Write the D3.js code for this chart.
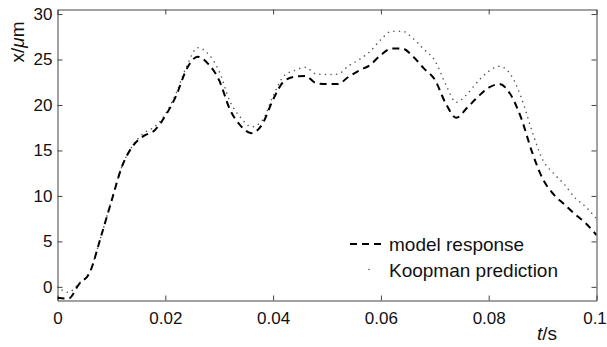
<!DOCTYPE html>
<html>
<head>
<meta charset="utf-8">
<script src="https://cdn.jsdelivr.net/npm/d3@7"></script>
<style>
  html, body { margin: 0; padding: 0; background: #fff; }
  svg { display: block; font-family: "Liberation Sans", Arial, Helvetica, sans-serif; }
</style>
</head>
<body>
<svg id="chart" width="607" height="347"></svg>
<script>
// ---- data (time in ms, displacement in µm) ----
const timeMs = [0,2,4,6,8,10,12,14,16,18,20,22,24,26,28,30,32,34,36,38,40,42,44,46,48,50,
  52,54,56,58,60,62,64,66,68,70,72,74,76,78,80,82,84,86,88,90,92,94,96,98,100];
const modelResponse = [-1.2,-1.3,0.3,1.6,5.4,9.4,13.3,15.5,16.6,17.2,18.8,21.0,24.0,25.3,24.5,22.7,
  19.5,17.7,16.9,17.9,20.6,22.6,23.1,23.2,22.4,22.3,22.3,23.1,23.8,24.4,25.5,26.2,26.2,25.3,24.0,
  22.8,20.2,18.6,19.7,20.9,21.9,22.3,21.2,18.6,14.9,11.9,10.2,9.1,8.0,7.0,5.7];
const koopmanPrediction = [0.0,-0.6,0.4,1.7,5.4,9.5,13.3,15.6,16.9,17.6,19.0,21.3,24.3,26.3,25.6,
  23.7,20.4,18.6,17.6,18.3,21.0,23.2,23.8,24.15,23.4,23.35,23.4,24.3,25.0,25.9,27.2,28.1,28.1,
  27.3,26.1,24.9,22.3,20.3,21.2,22.6,23.7,24.25,23.4,20.9,17.2,14.0,12.5,11.3,9.8,8.8,7.5];
const xTicks = [0, 0.02, 0.04, 0.06, 0.08, 0.1];
const xTickLabels = ["0", "0.02", "0.04", "0.06", "0.08", "0.1"];
const yTicks = [0, 5, 10, 15, 20, 25, 30];
const seriesNames = ["model response", "Koopman prediction"];

// ---- layout ----
const L = 57.5, R = 596.5, T = 9.5, B = 300.5;
const svg = d3.select("#chart");
const x = d3.scaleLinear().domain([0, 0.1]).range([L, R]);
const y = d3.scaleLinear().domain([-1.5, 30.5]).range([B, T]);

const axisColor = "#444";
const textColor = "#111";

// axes with inward ticks
const gB = svg.append("g").attr("transform", `translate(0,${B})`)
  .call(d3.axisBottom(x).tickValues(xTicks).tickSizeInner(-5).tickSizeOuter(0)
    .tickPadding(11).tickFormat((d, i) => xTickLabels[i]));
const gT = svg.append("g").attr("transform", `translate(0,${T})`)
  .call(d3.axisTop(x).tickValues(xTicks).tickSizeInner(-5).tickSizeOuter(0).tickFormat(""));
const gL = svg.append("g").attr("transform", `translate(${L},0)`)
  .call(d3.axisLeft(y).tickValues(yTicks).tickSizeInner(-5).tickSizeOuter(0).tickPadding(5));
const gR = svg.append("g").attr("transform", `translate(${R},0)`)
  .call(d3.axisRight(y).tickValues(yTicks).tickSizeInner(-5).tickSizeOuter(0).tickFormat(""));

[gB, gT, gL, gR].forEach(g => {
  g.select(".domain").attr("stroke", axisColor);
  g.selectAll(".tick line").attr("stroke", axisColor);
  g.selectAll(".tick text").attr("fill", textColor).attr("font-size", 17)
    .attr("font-family", "Liberation Sans, Arial, sans-serif");
});
// keep the last x label inside the picture
gB.selectAll(".tick text").filter(d => d === 0.1).attr("dx", -2);

// clip
svg.append("clipPath").attr("id", "clip").append("rect")
  .attr("x", L).attr("y", T).attr("width", R - L).attr("height", B - T);

const line = d3.line().curve(d3.curveMonotoneX)
  .x((d, i) => x(timeMs[i] / 1000)).y(d => y(d));

const plot = svg.append("g").attr("clip-path", "url(#clip)");
plot.append("path").datum(koopmanPrediction).attr("d", line)
  .attr("fill", "none").attr("stroke", "#555").attr("stroke-width", 1.5)
  .attr("stroke-linecap", "round").attr("stroke-dasharray", "0.1,5.5");
plot.append("path").datum(modelResponse).attr("d", line)
  .attr("fill", "none").attr("stroke", "#000").attr("stroke-width", 2)
  .attr("stroke-dasharray", "7,5");

// legend
const lg = svg.append("g");
lg.append("line").attr("x1", 350).attr("x2", 384).attr("y1", 244).attr("y2", 244)
  .attr("stroke", "#000").attr("stroke-width", 2).attr("stroke-dasharray", "7,5");
lg.append("circle").attr("cx", 369).attr("cy", 269.5).attr("r", 0.8).attr("fill", "#555");
lg.selectAll("text.leg").data(seriesNames).join("text").attr("class", "leg")
  .attr("x", 389).attr("y", (d, i) => 250.5 + i * 26)
  .attr("font-size", 19).attr("fill", textColor).text(d => d);

// axis labels
const xl = svg.append("text").attr("x", 547).attr("y", 340).attr("text-anchor", "middle")
  .attr("font-size", 19).attr("fill", textColor);
xl.append("tspan").attr("font-style", "italic").text("t");
xl.append("tspan").text("/s");

const yl = svg.append("text").attr("transform", "translate(24,42) rotate(-90)")
  .attr("text-anchor", "middle").attr("font-size", 19).attr("fill", textColor);
yl.append("tspan").text("x/");
yl.append("tspan").attr("font-style", "italic").text("μ");
yl.append("tspan").text("m");
</script>
</body>
</html>
